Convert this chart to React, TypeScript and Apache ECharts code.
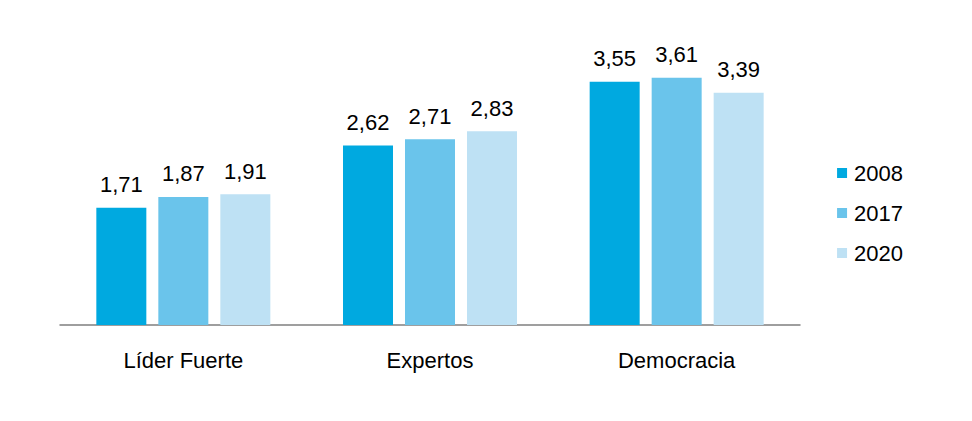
import React, { useEffect, useRef } from "react";
import * as echarts from "echarts";

const categories = ["Líder Fuerte", "Expertos", "Democracia"];
const seriesNames = ["2008", "2017", "2020"];
const values2008 = [1.71, 2.62, 3.55];
const values2017 = [1.87, 2.71, 3.61];
const values2020 = [1.91, 2.83, 3.39];
const colors = ["#00A9E0", "#6AC4EB", "#BEE1F4"];

export default function App() {
  const ref = useRef<HTMLDivElement>(null);
  useEffect(() => {
    if (!ref.current) return;
    const chart = echarts.init(ref.current, null, { renderer: "svg" });
    const font = "'Liberation Sans', Arial, sans-serif";
    const data = [values2008, values2017, values2020];
    chart.setOption({
      animation: false,
      textStyle: { fontFamily: font },
      grid: { left: 52, right: 164, top: 43, bottom: 88 },
      legend: {
        orient: "vertical",
        right: 56,
        top: 149,
        itemWidth: 10,
        itemHeight: 10,
        itemGap: 18,
        icon: "rect",
        textStyle: { fontSize: 22, color: "#000", fontFamily: font, padding: [0, 0, 0, 2] },
        data: seriesNames,
      },
      xAxis: {
        type: "category",
        data: categories,
        axisTick: { show: false },
        axisLine: { lineStyle: { color: "#7f7f7f", width: 1.5 } },
        axisLabel: { fontSize: 22, color: "#000", margin: 24, fontFamily: font },
      },
      yAxis: {
        type: "value",
        min: 0,
        max: 4,
        show: false,
        splitLine: { show: false },
      },
      series: seriesNames.map((name, i) => ({
        name,
        type: "bar",
        data: data[i],
        barWidth: 50,
        barGap: "24%",
        itemStyle: { color: colors[i] },
        label: {
          show: true,
          position: "top",
          distance: 12,
          fontSize: 22,
          color: "#000",
          fontFamily: font,
          formatter: (p: any) => p.value.toFixed(2).replace(".", ","),
        },
      })),
    });
    return () => chart.dispose();
  }, []);
  return <div ref={ref} style={{ width: 956, height: 405 }} />;
}
